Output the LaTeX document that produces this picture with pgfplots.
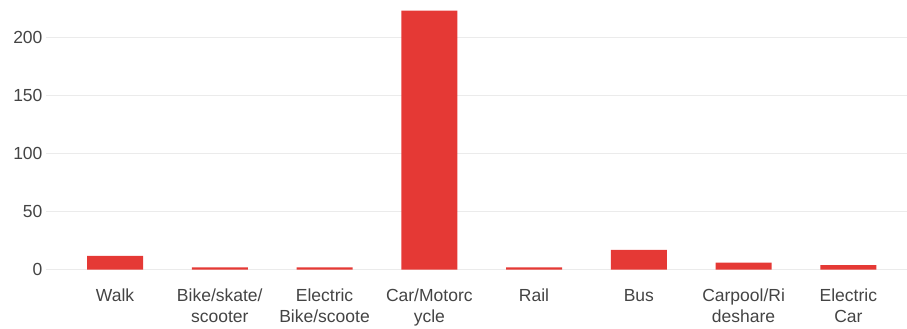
\documentclass[border=0pt]{standalone}
\usepackage{fontspec}
\setmainfont{Liberation Sans}
\usepackage{pgfplots}
\pgfplotsset{compat=1.18}
\definecolor{barred}{RGB}{229,57,53}
\definecolor{lab}{RGB}{68,68,68}
\definecolor{gridc}{RGB}{235,235,235}
\begin{document}
\begin{tikzpicture}
\begin{axis}[
  scale only axis, width=861pt, height=259pt,
  xmin=-0.659, xmax=7.56, ymin=0, ymax=223,
  axis line style={draw=none},
  major tick length=0pt,
  ymajorgrids, grid style={draw=gridc, line width=1pt},
  ytick={0,50,100,150,200},
  xtick={0,...,7},
  xticklabels={Walk, {Bike/skate/\\scooter}, {Electric\\Bike/scoote}, {Car/Motorc\\ycle}, Rail, Bus, {Carpool/Ri\\deshare}, {Electric\\Car}},
  xticklabel style={align=center, font=\fontsize{17.5}{21}\selectfont, text=lab, anchor=north, yshift=-16pt},
  yticklabel style={font=\fontsize{17.5}{21}\selectfont, text=lab, anchor=east},
  /pgf/number format/assume math mode=true,
  ybar, bar width=0.535,
  clip=false,
]
\addplot[fill=barred, draw=none] coordinates {(0,12) (1,2) (2,2) (3,223) (4,2) (5,17) (6,6) (7,4)};
\coordinate (ll) at (rel axis cs:0,0);
\coordinate (ur) at (rel axis cs:1,1);
\end{axis}
\pgfresetboundingbox
\path ([shift={(-46pt,-59.3pt)}]ll) rectangle ([shift={(0pt,10.7pt)}]ur);
\end{tikzpicture}
\end{document}
